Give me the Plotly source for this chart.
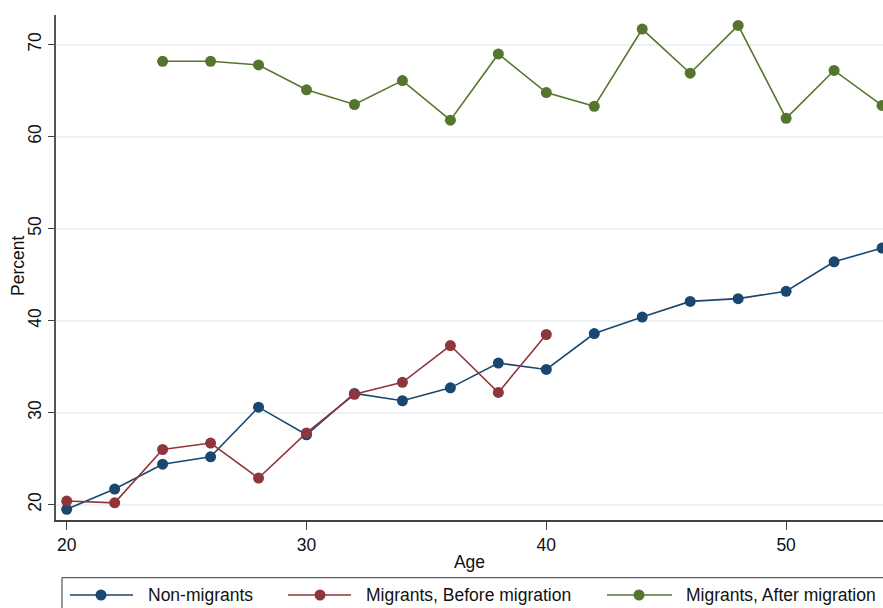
import plotly.graph_objects as go

# ---- data ----
ages_non = [20, 22, 24, 26, 28, 30, 32, 34, 36, 38, 40, 42, 44, 46, 48, 50, 52, 54]
non_migrants = [19.5, 21.7, 24.4, 25.2, 30.6, 27.6, 32.1, 31.3, 32.7, 35.4, 34.7,
                38.6, 40.4, 42.1, 42.4, 43.2, 46.4, 47.9]
ages_before = [20, 22, 24, 26, 28, 30, 32, 34, 36, 38, 40]
before_migration = [20.4, 20.2, 26.0, 26.7, 22.9, 27.8, 32.0, 33.3, 37.3, 32.2, 38.5]
ages_after = [24, 26, 28, 30, 32, 34, 36, 38, 40, 42, 44, 46, 48, 50, 52, 54]
after_migration = [68.2, 68.2, 67.8, 65.1, 63.5, 66.1, 61.8, 69.0, 64.8, 63.3,
                   71.7, 66.9, 72.1, 62.0, 67.2, 63.4]
series_names = ["Non-migrants", "Migrants, Before migration", "Migrants, After migration"]
x_ticks = [20, 30, 40, 50]
y_ticks = [20, 30, 40, 50, 60, 70]

colors = ["#1a476f", "#90353b", "#55752f"]

W, H = 883, 608
L, R, T, B = 56, 0, 15, 88
PW, PH = W - L - R, H - T - B
FS = 17.5

def px_to_paper_x(px):
    return (px - L) / PW

def px_to_paper_y(py):
    return (H - B - py) / PH

fig = go.Figure()
for xs, ys, name, c in zip([ages_non, ages_before, ages_after],
                           [non_migrants, before_migration, after_migration],
                           series_names, colors):
    fig.add_trace(go.Scatter(
        x=xs, y=ys, name=name, mode="lines+markers",
        line=dict(color=c, width=1.6),
        marker=dict(color=c, size=11, line=dict(width=0)),
        showlegend=False,
    ))

font_family = "Liberation Sans, Arial, sans-serif"

fig.update_layout(
    width=W, height=H,
    margin=dict(l=L, r=R, t=T, b=B, pad=0),
    paper_bgcolor="white", plot_bgcolor="white",
    font=dict(family=font_family, size=FS, color="#111111"),
    xaxis=dict(
        range=[19.554, 54.04], tickvals=x_ticks, ticks="outside", ticklen=8,
        tickcolor="#444444", tickwidth=1, showgrid=False, zeroline=False,
        showline=True, linecolor="#444444", linewidth=1.5,
        title=dict(text="Age", standoff=2, font=dict(size=FS)),
        tickfont=dict(size=FS),
    ),
    yaxis=dict(
        range=[18.337, 73.23], tickvals=y_ticks, ticks="outside", ticklen=6,
        tickcolor="#444444", tickwidth=1, tickangle=-90,
        showgrid=True, gridcolor="#eaf2f3", gridwidth=1.5, zeroline=False,
        showline=True, linecolor="#555555", linewidth=2,
        tickfont=dict(size=FS),
    ),
)

annotations = [dict(text="Percent", xref="paper", yref="paper",
                    x=px_to_paper_x(18), y=px_to_paper_y(266),
                    xanchor="center", yanchor="middle", textangle=-90,
                    showarrow=False,
                    font=dict(size=FS, color="#111111", family=font_family))]

# ---- legend box (drawn manually to match the original layout) ----
shapes = []
shapes.append(dict(type="rect", xref="paper", yref="paper",
                   x0=px_to_paper_x(62), x1=px_to_paper_x(920),
                   y0=px_to_paper_y(577.7), y1=px_to_paper_y(640),
                   line=dict(color="#333333", width=1), fillcolor="rgba(0,0,0,0)"))
legend_y = 595
entries = [(70, 133, 101, 148), (288, 351, 320, 366), (607, 672, 639, 686)]
for (lx0, lx1, mx, tx), name, c in zip(entries, series_names, colors):
    shapes.append(dict(type="line", xref="paper", yref="paper",
                       x0=px_to_paper_x(lx0), x1=px_to_paper_x(lx1),
                       y0=px_to_paper_y(legend_y), y1=px_to_paper_y(legend_y),
                       line=dict(color=c, width=1.5)))
    shapes.append(dict(type="circle", xref="paper", yref="paper",
                       xsizemode="pixel", ysizemode="pixel",
                       xanchor=px_to_paper_x(mx), yanchor=px_to_paper_y(legend_y),
                       x0=-5.5, x1=5.5, y0=-5.5, y1=5.5,
                       fillcolor=c, line=dict(width=0)))
    annotations.append(dict(text=name, xref="paper", yref="paper",
                            x=px_to_paper_x(tx - 2), y=px_to_paper_y(legend_y),
                            xanchor="left", yanchor="middle", showarrow=False,
                            font=dict(size=FS, color="#111111", family=font_family)))

fig.update_layout(shapes=shapes, annotations=annotations)

fig.write_html("out.html")
